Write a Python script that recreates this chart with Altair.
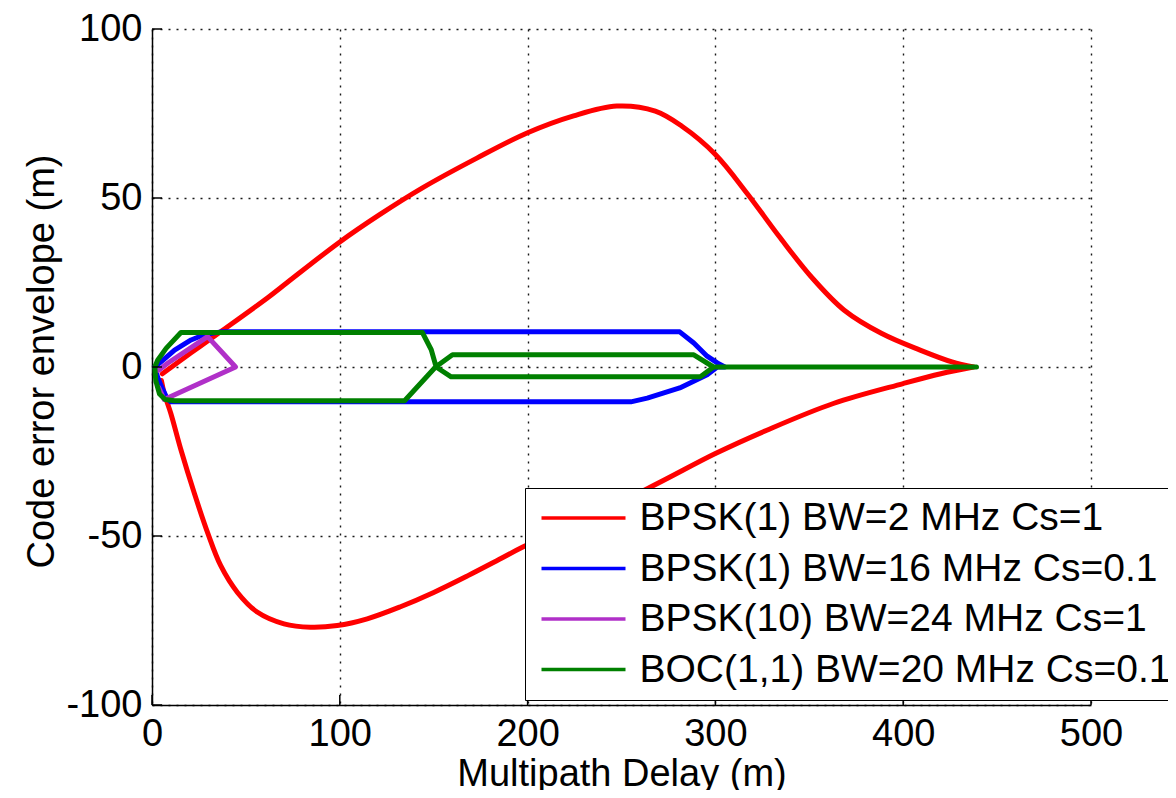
import altair as alt
import pandas as pd

FONT = "Liberation Sans"

series_names = [
    "BPSK(1) BW=2 MHz Cs=1",
    "BPSK(1) BW=16 MHz Cs=0.1",
    "BPSK(10) BW=24 MHz Cs=1",
    "BOC(1,1) BW=20 MHz Cs=0.1",
]
series_colors = ["#FF0000", "#0000FF", "#B030C8", "#008000"]

x_ticks = [0, 100, 200, 300, 400, 500]
y_ticks = [-100, -50, 0, 50, 100]

# BPSK(1) BW=2 MHz Cs=1
red_upper_x = [5.5, 20.8, 36.7, 61.6, 72, 100, 121, 144, 173, 200, 224.5, 247.5,
               268, 282, 300, 316.7, 334, 351, 368.6, 388.6, 409, 426, 437.5]
red_upper_y = [-2, 4.2, 10.5, 20.5, 25, 37, 45, 53, 61.8, 69.3, 74.3, 77.2,
               75.7, 71.3, 62.9, 51.5, 38.6, 26.7, 16.8, 9.9, 5, 1.5, 0]
red_lower_x = [5, 6.5, 10, 15.4, 22.5, 29.6, 36.6, 45.5, 56, 70.3, 84.4, 98.6, 114.6,
               132, 150, 168, 185, 197.7, 263.7, 300, 327.4, 362.8, 400, 420, 437.5]
red_lower_y = [-4, -7.8, -13.7, -24.5, -37.3, -49, -58.8, -66.7, -72.5, -76, -77, -76.5, -74.5,
               -71, -66.7, -61.8, -56.9, -53.2, -36, -25.6, -18.7, -10.8, -4.9, -2, 0]

# BPSK(1) BW=16 MHz Cs=0.1
blue_upper_x = [1.5, 4.8, 12, 20.8, 28, 36.7, 281, 288.5, 295.6, 301, 305]
blue_upper_y = [0, 1.5, 5, 8, 9.6, 10.4, 10.4, 7.1, 3.2, 1.2, 0]
blue_lower_x = [1.5, 3, 4.8, 8, 10, 255, 263.7, 281, 295.6, 301, 305]
blue_lower_y = [0, -3, -5.5, -9.3, -10.3, -10.3, -9.2, -6.2, -2.3, 0, 0]

# BPSK(10) BW=24 MHz Cs=1
purple_upper_x = [3.5, 8.3, 29.6, 44.5]
purple_upper_y = [-1, 1.1, 9, 0]
purple_lower_x = [3.5, 6.5, 44.5]
purple_lower_y = [-6, -9.6, 0]

# BOC(1,1) BW=20 MHz Cs=0.1
green_upper_x = [1.5, 3, 7.5, 15.4, 144, 148.7, 151.3, 159.3, 292, 299, 439]
green_upper_y = [0, 2, 5.5, 10.2, 10.2, 5.1, 0, -2.9, -2.9, 0, 0]
green_lower_x = [1.5, 2, 4, 7, 12, 134.5, 151, 160, 288.5, 299, 439]
green_lower_y = [0, -4, -8, -9.6, -10, -10, 0, 3.6, 3.6, 0, 0]

branches = [
    (red_upper_x, red_upper_y, red_lower_x, red_lower_y),
    (blue_upper_x, blue_upper_y, blue_lower_x, blue_lower_y),
    (purple_upper_x, purple_upper_y, purple_lower_x, purple_lower_y),
    (green_upper_x, green_upper_y, green_lower_x, green_lower_y),
]

rows = []
for name, (ux, uy, lx, ly) in zip(series_names, branches):
    xs = list(ux) + list(reversed(lx))
    ys = list(uy) + list(reversed(ly))
    for i, (a, b) in enumerate(zip(xs, ys)):
        rows.append({"series": name, "x": a, "y": b, "order": i})
df = pd.DataFrame(rows)

x_scale = alt.Scale(domain=[0, 500], nice=False, zero=False)
y_scale = alt.Scale(domain=[-100, 100], nice=False, zero=False)
color_scale = alt.Scale(domain=series_names, range=series_colors)

x_enc = alt.X("x:Q", scale=x_scale,
              axis=alt.Axis(values=x_ticks, title="Multipath Delay (m)", labelPadding=10,
                            titleY=80, titleBaseline="alphabetic",
                            labelExpr="'' + datum.value"))
y_enc = alt.Y("y:Q", scale=y_scale,
              axis=alt.Axis(values=y_ticks, title="Code error envelope (m)", labelPadding=10,
                            titleX=-99, titleY=332, titleBaseline="alphabetic", titleAngle=270,
                            labelExpr="'' + datum.value"))


def series_layer(name, interp):
    return alt.Chart(df).transform_filter(alt.datum.series == name).mark_line(
        strokeWidth=5, clip=False, strokeJoin="round", strokeCap="round", interpolate=interp
    ).encode(
        x=x_enc, y=y_enc,
        color=alt.Color("series:N", scale=color_scale, sort=series_names, title=None),
        order=alt.Order("order:Q"),
    )


layers = [
    series_layer(series_names[0], "catmull-rom"),
    series_layer(series_names[1], "linear"),
    series_layer(series_names[2], "linear"),
    series_layer(series_names[3], "linear"),
]

xt = alt.Chart(pd.DataFrame({"x": x_ticks})).mark_rule(color="black", strokeWidth=1.5).encode(
    x=alt.X("x:Q", scale=x_scale), y=alt.value(676), y2=alt.value(666))
yt = alt.Chart(pd.DataFrame({"y": y_ticks})).mark_rule(color="black", strokeWidth=1.5).encode(
    y=alt.Y("y:Q", scale=y_scale), x=alt.value(0), x2=alt.value(10))

chart = alt.layer(*layers, xt, yt).properties(
    width=939, height=676,
    padding={"left": 144, "top": 21, "right": 77, "bottom": 85},
    autosize=alt.AutoSizeParams(type="none"),
    background="white",
).configure_view(stroke=None).configure_axis(
    domainColor="black", domainWidth=1.5, grid=True, gridColor="black", gridDash=[2, 6],
    gridWidth=1.4, gridOpacity=0.9, ticks=False, labelFont=FONT, labelFontSize=38,
    labelColor="black", titleFont=FONT, titleFontSize=38, titleFontWeight="normal",
    titleColor="black", labelFlush=False, labelOverlap=False,
).configure_legend(
    orient="none", legendX=373, legendY=459, strokeColor="black", fillColor="white",
    padding=10.5, symbolType="stroke", symbolSize=7056, symbolStrokeWidth=3.5,
    symbolOffset=4, clipHeight=39,
    labelFont=FONT, labelFontSize=39, labelColor="black", labelOffset=12, rowPadding=10.5,
    labelLimit=0, cornerRadius=0,
)

chart.save("out.html", embed_options={"renderer": "svg", "actions": False})
